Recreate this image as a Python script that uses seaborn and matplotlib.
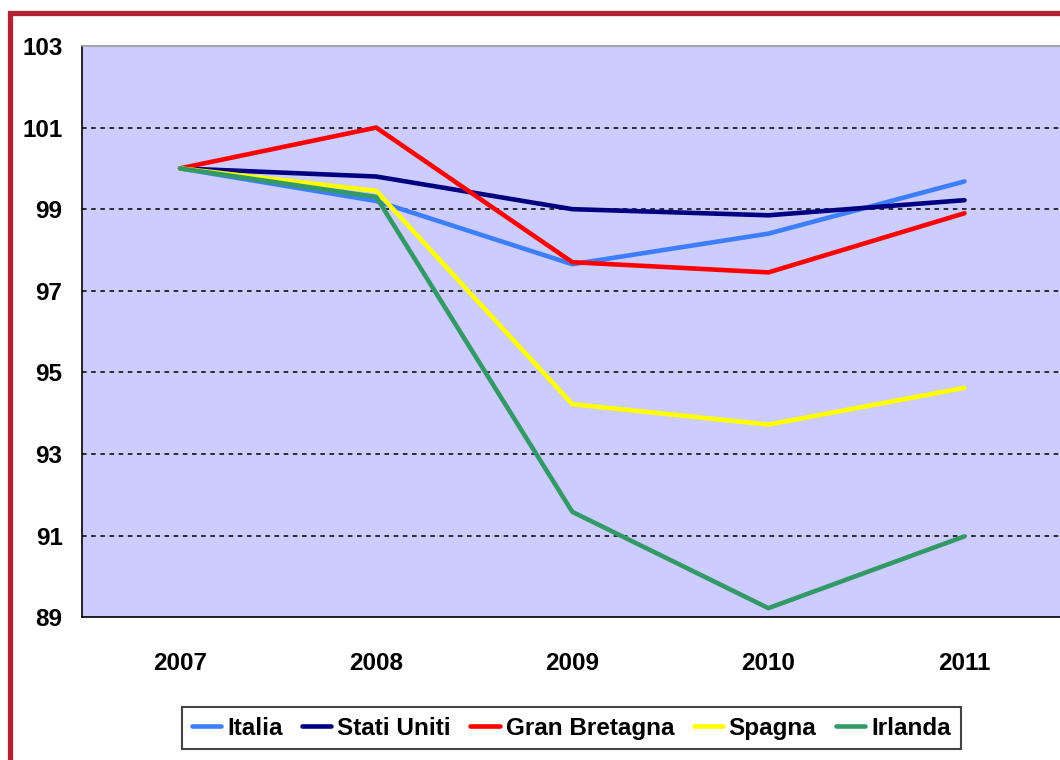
import pandas as pd
import matplotlib.pyplot as plt
import seaborn as sns
from matplotlib.patches import Rectangle

# Data
years = ["2007", "2008", "2009", "2010", "2011"]
italia = [100.0, 99.2, 97.65, 98.4, 99.68]
stati_uniti = [100.0, 99.8, 99.0, 98.85, 99.22]
gran_bretagna = [100.0, 101.0, 97.7, 97.45, 98.9]
spagna = [100.0, 99.45, 94.22, 93.72, 94.62]
irlanda = [100.0, 99.3, 91.58, 89.22, 90.98]

series_names = ["Italia", "Stati Uniti", "Gran Bretagna", "Spagna", "Irlanda"]
series_colors = ["#3D7EFF", "#000080", "#FF0000", "#FFFF00", "#339966"]
y_ticks = [89, 91, 93, 95, 97, 99, 101, 103]

df = pd.DataFrame({
    "anno": years * 5,
    "valore": italia + stati_uniti + gran_bretagna + spagna + irlanda,
    "paese": [n for n in series_names for _ in years],
})

sns.set_style("white")
plt.rcParams["font.family"] = ["Liberation Sans", "DejaVu Sans"]
plt.rcParams["font.weight"] = "bold"
plt.rcParams["text.color"] = "black"
plt.rcParams["xtick.color"] = "black"
plt.rcParams["ytick.color"] = "black"
plt.rcParams["xtick.labelcolor"] = "black"
plt.rcParams["ytick.labelcolor"] = "black"
fs = 17.5

fig = plt.figure(figsize=(10.6, 7.6), dpi=100)
ax = fig.add_axes([0.0774, 0.188, 0.925, 0.7515])
ax.set_facecolor("#CCCCFF")

sns.lineplot(data=df, x="anno", y="valore", hue="paese", hue_order=series_names,
             palette=series_colors, linewidth=3.3, sort=False, ax=ax, legend=True)

ax.set_ylim(89, 103)
ax.set_xlim(-0.5, 4.5)
ax.set_yticks(y_ticks)
ax.set_yticklabels([str(t) for t in y_ticks], fontsize=fs, fontweight="bold")
ax.set_xticks(range(len(years)))
ax.set_xticklabels(years, fontsize=fs, fontweight="bold")
ax.set_xlabel("")
ax.set_ylabel("")

# category boundary ticks on x axis
ax.set_xticks([i - 0.5 for i in range(len(years) + 1)], minor=True)
ax.tick_params(axis="x", which="major", length=0, pad=25)
ax.tick_params(axis="x", which="minor", length=9, width=1.2, color="black", direction="out")
ax.tick_params(axis="y", length=8, width=1.2, color="black", direction="out", pad=6)

for t in y_ticks[1:-1]:
    ax.axhline(t, color="black", linestyle=(0, (3, 3)), linewidth=1.1, zorder=1)

for side in ["left", "bottom"]:
    ax.spines[side].set_color("black")
    ax.spines[side].set_linewidth(1.2)
ax.spines["top"].set_color("#999999")
ax.spines["top"].set_linewidth(1.2)
ax.spines["right"].set_visible(False)

handles, labels = ax.get_legend_handles_labels()
ax.legend(handles, labels, loc="center", bbox_to_anchor=(0.539, 0.042), bbox_transform=fig.transFigure,
          ncol=5, frameon=True, fancybox=False, edgecolor="#444444", framealpha=1,
          prop={"size": fs, "weight": "bold"}, handlelength=1.2, handletextpad=0.25,
          columnspacing=0.8, borderpad=0.4)
ax.get_legend().get_frame().set_linewidth(1.5)

# outer red frame (left and top edges)
fig.patches.append(Rectangle((10 / 1060, -0.1), 1.2, 1.1 - 13 / 760, transform=fig.transFigure,
                             fill=False, edgecolor="#B22233", linewidth=3.8, zorder=0))

fig.savefig("out.png", dpi=100)
